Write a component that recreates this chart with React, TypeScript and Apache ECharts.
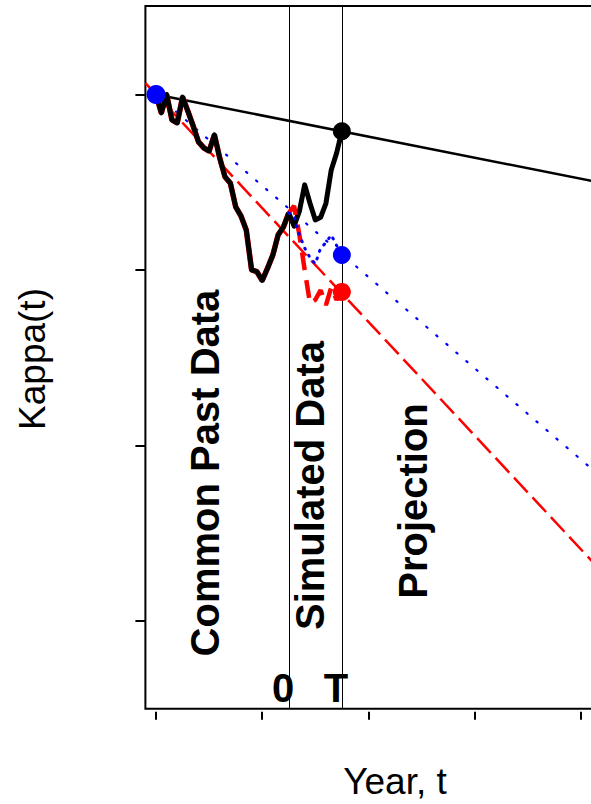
import { useEffect, useRef } from "react";
import * as echarts from "echarts";

// Common past data (years and kappa values)
const pastYears = [1960, 1961, 1962, 1963, 1964, 1965, 1966, 1967, 1968, 1969, 1970, 1971, 1972, 1973, 1974, 1975, 1976, 1977, 1978, 1979, 1980, 1981, 1982, 1983, 1984, 1985];
const pastKappa = [0, -2.1, 0, -2.9, -3.25, -0.3, -1.9, -3.6, -5.4, -6.1, -6.45, -4.6, -7.25, -9.4, -10.1, -12.8, -13.85, -15.45, -20.0, -20.2, -21.2, -19.8, -18.3, -16.0, -15.1, -13.5];

// Simulated data (three scenarios)
const simYears = [1985, 1986, 1987, 1988, 1989, 1990, 1991, 1992, 1993, 1994, 1995];
const simBlack = [-13.5, -15.0, -13.3, -10.3, -12.4, -14.3, -14.0, -12.4, -8.6, -6.7, -4.2];
const simRed = [-13.5, -12.7, -16.0, -20.0, -23.8, -23.4, -22.3, -24.0, -22.0, -23.4, -22.5];
const simBlue = [-13.5, -13.9, -16.0, -17.5, -18.6, -19.3, -17.5, -16.9, -16.0, -17.2, -18.3];

// Projection trend lines (end points)
const blackTrendX = [1960, 2050];
const blackTrendY = [0, -10.8];
const redTrendX = [1958, 2050];
const redTrendY = [1.3, -58.3];
const blueTrendX = [1960, 2050];
const blueTrendY = [0, -46.8];

// Marked points
const startPoint = [1960, 0];
const endYear = 1995;
const zeroYear = 1985;

// Axis ticks
const xTicks = [1960, 1980, 2000, 2020, 2040];
const yTicks = [0, -20, -40, -60];

const zip = (xs: number[], ys: number[]) => xs.map((x, i) => [x, ys[i]]);

export default function App() {
  const ref = useRef<HTMLDivElement>(null);

  useEffect(() => {
    if (!ref.current) return;
    const chart = echarts.init(ref.current, undefined, { renderer: "svg" });
    const sans = "'Liberation Sans', Arial, sans-serif";

    const option: any = {
      animation: false,
      backgroundColor: "#fff",
      grid: {
        left: 145.4,
        top: 6,
        right: 6.1,
        bottom: 95.3,
        show: true,
        borderColor: "#000",
        borderWidth: 2,
        backgroundColor: "transparent",
      },
      xAxis: {
        type: "value",
        min: 1958,
        max: 2050,
        offset: 3,
        axisLine: { show: false, onZero: false },
        splitLine: { show: false },
        axisLabel: { show: false },
        axisTick: {
          show: true,
          length: 8,
          customValues: xTicks,
          lineStyle: { color: "#000", width: 2 },
        },
      },
      yAxis: {
        type: "value",
        min: -70,
        max: 10.08,
        axisLine: { show: false, onZero: false },
        splitLine: { show: false },
        axisLabel: { show: false },
        axisTick: {
          show: true,
          length: 10,
          customValues: yTicks,
          lineStyle: { color: "#000", width: 2 },
        },
      },
      series: [
        {
          type: "line",
          data: zip(blackTrendX, blackTrendY),
          showSymbol: false,
          lineStyle: { color: "#000", width: 2.5 },
          markLine: {
            silent: true,
            symbol: ["none", "none"],
            label: { show: false },
            lineStyle: { color: "#000", width: 1, type: "solid" },
            data: [{ xAxis: zeroYear }, { xAxis: endYear }],
          },
          z: 2,
        },
        {
          type: "line",
          data: zip(redTrendX, redTrendY),
          showSymbol: false,
          lineStyle: { color: "#ff0000", width: 2.5, type: [20, 7] },
          z: 3,
        },
        {
          type: "line",
          data: zip(blueTrendX, blueTrendY),
          showSymbol: false,
          lineStyle: { color: "#0000ff", width: 2.2, type: [1.5, 11.7], cap: "round" },
          z: 3,
        },
        {
          type: "line",
          data: zip(pastYears, pastKappa),
          showSymbol: false,
          lineStyle: { color: "#ff0000", width: 5.5 },
          z: 4,
        },
        {
          type: "line",
          data: zip(pastYears, pastKappa),
          showSymbol: false,
          lineStyle: { color: "#000", width: 5, join: "round" },
          z: 5,
        },
        {
          type: "line",
          data: zip(simYears, simBlack),
          showSymbol: false,
          lineStyle: { color: "#000", width: 5, join: "round" },
          z: 5,
        },
        {
          type: "line",
          data: zip(simYears, simRed),
          showSymbol: false,
          lineStyle: { color: "#ff0000", width: 4.5, type: [18, 10] },
          z: 6,
        },
        {
          type: "line",
          data: zip(simYears, simBlue),
          showSymbol: false,
          lineStyle: { color: "#0000ff", width: 3, type: [1, 7], cap: "round" },
          z: 6,
        },
        {
          type: "scatter",
          symbol: "circle",
          symbolSize: 19,
          itemStyle: { color: "#0000ff", opacity: 1 },
          data: [startPoint],
          z: 7,
        },
        {
          type: "scatter",
          symbol: "circle",
          symbolSize: 18,
          itemStyle: { opacity: 1 },
          data: [
            { value: [endYear, simBlack[simBlack.length - 1]], itemStyle: { color: "#000", opacity: 1 } },
            { value: [endYear, simBlue[simBlue.length - 1]], itemStyle: { color: "#0000ff", opacity: 1 } },
            { value: [endYear, simRed[simRed.length - 1]], itemStyle: { color: "#ff0000", opacity: 1 } },
          ],
          z: 7,
        },
      ],
      graphic: [
        {
          type: "text",
          x: 32.5,
          y: 359,
          rotation: Math.PI / 2,
          style: { text: "Kappa(t)", font: `37px ${sans}`, fill: "#000", align: "center", verticalAlign: "middle" },
        },
        {
          type: "text",
          x: 395,
          y: 781.5,
          style: { text: "Year, t", font: `37px ${sans}`, fill: "#000", align: "center", verticalAlign: "middle" },
        },
        {
          type: "text",
          x: 205,
          y: 473,
          rotation: Math.PI / 2,
          style: { text: "Common Past Data", font: `bold 40px ${sans}`, fill: "#000", align: "center", verticalAlign: "middle" },
        },
        {
          type: "text",
          x: 310,
          y: 485.5,
          rotation: Math.PI / 2,
          style: { text: "Simulated Data", font: `bold 40px ${sans}`, fill: "#000", align: "center", verticalAlign: "middle" },
        },
        {
          type: "text",
          x: 413,
          y: 501,
          rotation: Math.PI / 2,
          style: { text: "Projection", font: `bold 40px ${sans}`, fill: "#000", align: "center", verticalAlign: "middle" },
        },
        {
          type: "text",
          x: 283,
          y: 688,
          style: { text: "0", font: `bold 40px ${sans}`, fill: "#000", align: "center", verticalAlign: "middle" },
        },
        {
          type: "text",
          x: 336,
          y: 688,
          style: { text: "T", font: `bold 40px ${sans}`, fill: "#000", align: "center", verticalAlign: "middle" },
        },
      ],
    };

    chart.setOption(option);
    return () => chart.dispose();
  }, []);

  return (
    <div style={{ position: "fixed", left: 0, top: 0, width: 591, height: 804, overflow: "hidden", background: "#fff" }}>
      <div ref={ref} style={{ width: 640, height: 804 }} />
    </div>
  );
}
